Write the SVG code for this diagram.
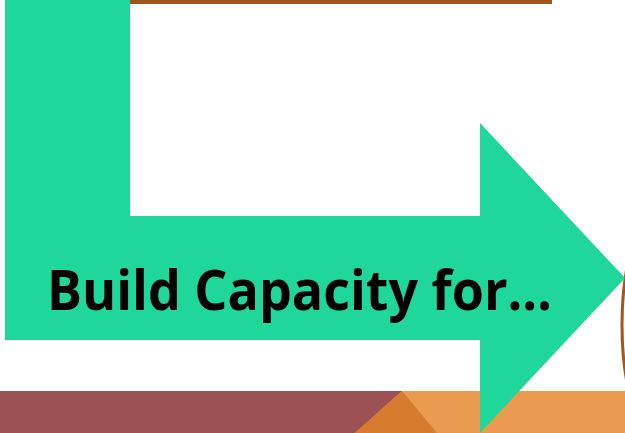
<svg xmlns="http://www.w3.org/2000/svg" width="625" height="433" viewBox="0 0 625 433">
<style>
.t{font-family:"Open Sans","Liberation Sans",sans-serif;font-weight:bold;fill:#000}
</style>
<rect width="625" height="433" fill="#fff"/>
<g id="bottom-band">
<rect x="0" y="391" width="625" height="42" fill="#9C5252"/>
<polygon points="355,433 402,391 625,391 625,433" fill="#EA9B4F"/>
<polygon points="355,433 402,391 437,433" fill="#D77B2F"/>
</g>
<g id="ring">
<ellipse cx="682" cy="325" rx="60" ry="142" fill="none" stroke="#A0561C" stroke-width="3"/>
</g>
<g id="top-bar">
<rect x="7" y="0" width="545" height="4" fill="#A0561C"/>
</g>
<g id="arrow">
<polygon points="5,0 130,0 130,216 480,216 480,123 625,278 480,433 480,340 5,340" fill="#1FD69B"/>
<text class="t" x="47" y="310" font-size="56" textLength="505" lengthAdjust="spacingAndGlyphs">Build Capacity for…</text>
</g>
</svg>
